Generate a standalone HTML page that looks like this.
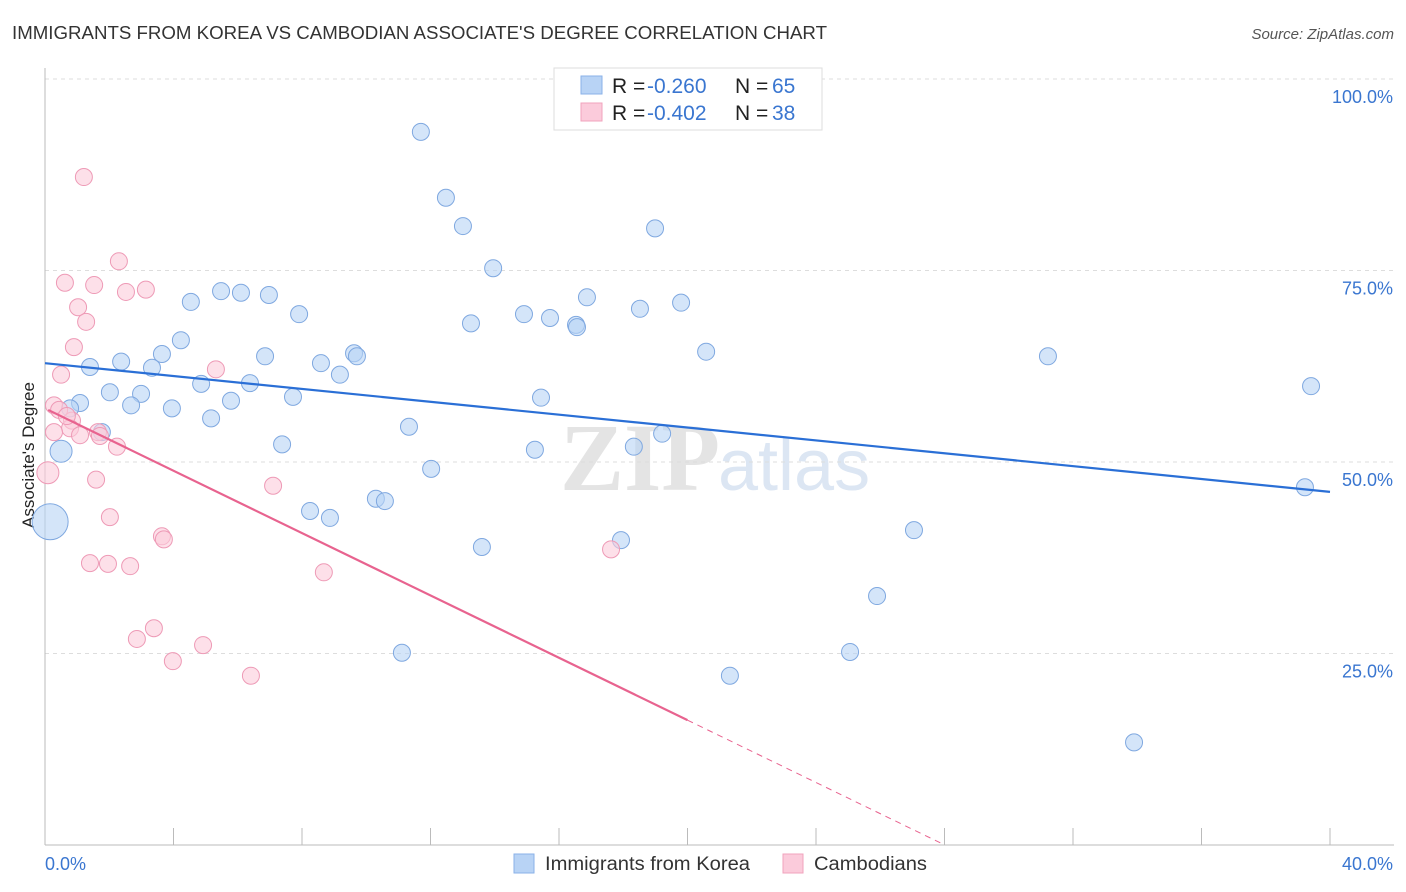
<!DOCTYPE html>
<html><head><meta charset="utf-8"><style>
body{margin:0;background:#fff;font-family:"Liberation Sans",sans-serif;}
#wrap{position:relative;width:1406px;height:892px;overflow:hidden;}
</style></head><body>
<div id="wrap">
<svg id="svg" width="1406" height="892" xmlns="http://www.w3.org/2000/svg">
<text x="12" y="39" font-size="18" fill="#333" textLength="815" lengthAdjust="spacingAndGlyphs">IMMIGRANTS FROM KOREA VS CAMBODIAN ASSOCIATE'S DEGREE CORRELATION CHART</text>
<text x="1394" y="39" font-size="15" fill="#555" font-style="italic" text-anchor="end">Source: ZipAtlas.com</text>
<text x="720" y="490" font-size="96" fill="#e4e4e4" text-anchor="end" font-family="Liberation Serif,serif" font-weight="bold">ZIP</text>
<text x="718" y="490" font-size="72" fill="#dce6f3">atlas</text>
<text transform="translate(34,455) rotate(-90)" font-size="17" fill="#222" text-anchor="middle">Associate's Degree</text>
<g id="grid"></g><g id="marks"></g>
<g>
<rect x="554" y="68" width="268" height="62" fill="#fff" stroke="#ddd"/>
<rect x="581" y="76" width="21" height="18" fill="#b8d3f5" stroke="#8ab2e8"/>
<rect x="581" y="103" width="21" height="18" fill="#fbcbdb" stroke="#f0a3bd"/>
<text x="612" y="93" font-size="21" fill="#222">R = <tspan x="647" fill="#3a76d0">-0.260</tspan><tspan x="735">N = </tspan><tspan x="772" fill="#3a76d0">65</tspan></text>
<text x="612" y="120" font-size="21" fill="#222">R = <tspan x="647" fill="#3a76d0">-0.402</tspan><tspan x="735">N = </tspan><tspan x="772" fill="#3a76d0">38</tspan></text>
</g>
<g>
<rect x="514" y="854" width="20" height="19" fill="#b8d3f5" stroke="#8ab2e8"/>
<text x="545" y="870" font-size="19" fill="#333" textLength="205" lengthAdjust="spacingAndGlyphs">Immigrants from Korea</text>
<rect x="783" y="854" width="20" height="19" fill="#fbcbdb" stroke="#f0a3bd"/>
<text x="814" y="870" font-size="19" fill="#333" textLength="113" lengthAdjust="spacingAndGlyphs">Cambodians</text>
</g>
</svg>
</div>
<script>
const yTicks=[25,50,75,100];
const yTickLabels=["25.0%","50.0%","75.0%","100.0%"];
const xTickLabels=["0.0%","40.0%"];
const koreaX=[11.70,12.48,13.01,18.99,13.95,16.87,19.80,18.52,5.48,6.10,6.97,4.54,7.91,13.26,14.91,15.72,16.53,16.56,4.23,3.64,9.62,9.71,20.58,31.22,6.85,2.37,1.40,3.33,8.59,9.18,4.86,6.38,2.02,2.99,39.41,7.72,5.79,1.09,2.68,3.95,0.78,15.44,5.17,11.33,1.77,7.38,15.25,0.50,18.33,19.21,12.02,10.30,10.58,8.25,8.87,39.22,0.16,27.05,17.93,13.60,25.90,11.11,25.06,21.32,33.90];
const koreaY=[93.1,84.5,80.8,80.5,75.3,71.5,70.8,70.0,72.3,72.1,71.8,70.9,69.3,68.1,69.3,68.8,67.9,67.6,65.9,64.1,64.2,63.8,64.4,63.8,63.8,63.1,62.4,62.3,62.9,61.4,60.2,60.3,59.1,58.9,59.9,58.5,58.0,57.7,57.4,57.0,57.0,58.4,55.7,54.6,53.9,52.3,51.6,51.4,52.0,53.7,49.1,45.2,44.9,43.6,42.7,46.7,42.2,41.1,39.8,38.9,32.5,25.1,25.2,22.1,13.4];
const cambX=[1.21,2.30,0.62,1.53,2.52,3.14,1.03,1.28,0.90,5.32,0.50,0.28,0.44,0.84,0.78,0.28,1.09,1.65,1.71,2.24,0.09,1.59,7.10,2.02,3.64,3.70,17.62,1.40,1.96,2.65,8.68,3.39,2.86,4.92,3.98,6.41,0.68];
const cambY=[87.2,76.2,73.4,73.1,72.2,72.5,70.2,68.3,65.0,62.1,61.4,57.4,56.8,55.4,54.4,53.9,53.5,53.9,53.4,52.0,48.6,47.7,46.9,42.8,40.3,39.9,38.6,36.8,36.7,36.4,35.6,28.3,26.9,26.1,24.0,22.1,56.0];
const koreaTrend=[62.9,46.1];
const cambTrend=[57.0,-2.035];
const NS="http://www.w3.org/2000/svg";
const X0=45,X1=1330,Y0=845,Y100=79;
const sx=v=>X0+(v/40)*(X1-X0);
const sy=v=>Y0-(v/100)*(Y0-Y100);
function mk(tag,attrs,parent){const e=document.createElementNS(NS,tag);for(const k in attrs)e.setAttribute(k,attrs[k]);parent.appendChild(e);return e;}
const grid=document.getElementById('grid'),marks=document.getElementById('marks');
yTicks.forEach((t,i)=>{
 let l=mk('line',{x1:45,x2:1394,y1:sy(t),y2:sy(t),stroke:'#ddd','stroke-dasharray':'4 4'},grid);
 
 
 let tx=mk('text',{x:1393,y:sy(t)+24,'font-size':18,fill:'#3a76d0','text-anchor':'end'},grid);
 tx.textContent=yTickLabels[i];
 
 
});
let ax=mk('line',{x1:45,x2:45,y1:68,y2:845,stroke:'#bbb'},grid);


let bx=mk('line',{x1:45,x2:1394,y1:845,y2:845,stroke:'#bbb'},grid);


for(let i=0;i<=10;i++){let x=sx(i*4);let t=mk('line',{x1:x,x2:x,y1:828,y2:845,stroke:'#bbb'},grid);
 
 }
[[0,'start',45],[40,'end',1393]].forEach((d,i)=>{let t=mk('text',{x:d[2],y:870,'font-size':18,fill:'#3a76d0','text-anchor':d[1]},grid);t.textContent=xTickLabels[i];
 
 });
function dot(x,y,r,fill,stroke,name){let c=mk('circle',{cx:sx(x),cy:sy(y),r:r,fill:fill,'fill-opacity':0.6,stroke:stroke,'stroke-width':1},marks);
 
 }
koreaX.forEach((x,i)=>{let r=8.5;if(x<0.3&&koreaY[i]<45)r=18;else if(x<0.6&&koreaY[i]<52)r=11;dot(x,koreaY[i],r,'#b8d3f5','#7fa8e0','korea-point');});
cambX.forEach((x,i)=>{let r=(x<0.15)?11:8.5;dot(x,cambY[i],r,'#fbcbdb','#ee9ab6','cambodian-point');});
let bl=mk('line',{x1:sx(0),y1:sy(koreaTrend[0]),x2:sx(40),y2:sy(koreaTrend[1]),stroke:'#2a6fd6','stroke-width':2.2},marks);


const cy=x=>cambTrend[0]+cambTrend[1]*x;
let pl=mk('line',{x1:sx(0.1),y1:sy(cy(0.1)),x2:sx(20),y2:sy(cy(20)),stroke:'#e8638f','stroke-width':2.2},marks);


const xe=-cambTrend[0]/cambTrend[1];
let pd=mk('line',{x1:sx(20),y1:sy(cy(20)),x2:sx(xe),y2:sy(0),stroke:'#e8638f','stroke-width':1,'stroke-dasharray':'6 5'},marks);


</script>
</body></html>
